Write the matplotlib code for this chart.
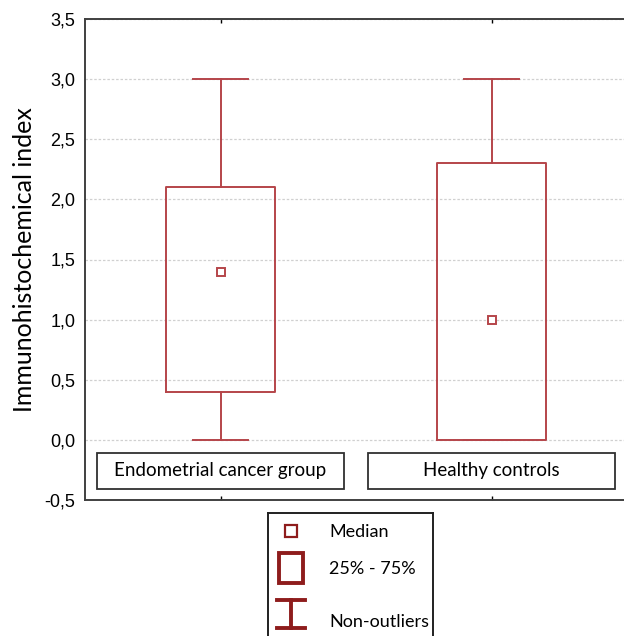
"""Box plot of immunohistochemical index for two groups."""
import matplotlib
matplotlib.use("Agg")
import matplotlib.pyplot as plt
from matplotlib.patches import Rectangle
from matplotlib.lines import Line2D

GROUPS = ["Endometrial cancer group", "Healthy controls"]
MINS = [0.0, 0.0]
Q1S = [0.4, 0.0]
MEDIANS = [1.4, 1.0]
Q3S = [2.1, 2.3]
MAXS = [3.0, 3.0]
YTICKS = [-0.5, 0.0, 0.5, 1.0, 1.5, 2.0, 2.5, 3.0, 3.5]
LEGEND_LABELS = ["Median", "25% - 75%", "Non-outliers"]

BOX_COLOR = "#b5454a"
LEGEND_COLOR = "#8e1c1c"
LABEL_FONT = ["Lato", "DejaVu Sans"]
TICK_FONT = ["Liberation Sans", "DejaVu Sans"]


def _main() -> None:
    fig = plt.figure(figsize=(6.24, 6.36), dpi=100)
    W, H = 624.0, 636.0
    ax = fig.add_axes([85 / W, 136 / H, 542 / W, 481 / H])

    stats = []
    for name, lo, q1, med, q3, hi in zip(GROUPS, MINS, Q1S, MEDIANS, Q3S, MAXS):
        stats.append({"label": name, "whislo": lo, "q1": q1, "med": med,
                      "q3": q3, "whishi": hi, "mean": med, "fliers": []})
    positions = list(range(len(GROUPS)))
    line = {"color": BOX_COLOR, "linewidth": 1.4}
    ax.bxp(stats, positions=positions, widths=0.40, capwidths=0.20,
           showmeans=True, showfliers=False,
           boxprops=line, whiskerprops=line, capprops=line,
           medianprops={"visible": False},
           meanprops={"marker": "s", "markersize": 6, "markerfacecolor": "white",
                      "markeredgecolor": BOX_COLOR, "markeredgewidth": 1.4,
                      "linestyle": "none"})

    ax.set_xlim(-0.5, len(GROUPS) - 0.5)
    ax.set_ylim(YTICKS[0], YTICKS[-1])
    ax.set_yticks(YTICKS)
    ax.set_yticklabels([f"{v:.1f}".replace(".", ",") for v in YTICKS],
                       fontfamily=TICK_FONT, fontsize=13)
    ax.tick_params(axis="y", length=0, pad=7)
    ax.set_xticks(positions)
    ax.set_xticklabels([])
    ax.tick_params(axis="x", direction="in", length=3, top=True, width=1)
    ax.grid(axis="y", color="#d0d0d0", linestyle=(0, (2, 1.5)), linewidth=0.9)
    ax.set_axisbelow(True)
    for sp in ax.spines.values():
        sp.set_color("#404040")
        sp.set_linewidth(1.4)

    ax.set_ylabel("Immunohistochemical index", fontfamily=LABEL_FONT,
                  fontsize=18, labelpad=6)

    # category label boxes inside the plot area
    for pos, name in zip(positions, GROUPS):
        ax.add_patch(Rectangle((pos - 0.455, -0.405), 0.91, 0.30,
                               facecolor="white", edgecolor="#303030",
                               linewidth=1.3, zorder=3))
        ax.text(pos, -0.255, name, ha="center", va="center",
                fontfamily=LABEL_FONT, fontsize=13.5, zorder=4)

    # legend panel below the plot (units: 1 x unit = 1 px, 1 y unit ~ 0.91 px)
    lg = fig.add_axes([268 / W, -10 / H, 165 / W, 133 / H])
    lg.set_xlim(0, 165)
    lg.set_ylim(146, 0)
    lg.set_xticks([])
    lg.set_yticks([])
    for sp in lg.spines.values():
        sp.set_color("#202020")
        sp.set_linewidth(1.4)
    lg.plot([23], [20], marker="s", markersize=8, markerfacecolor="white",
            markeredgecolor=LEGEND_COLOR, markeredgewidth=1.6, linestyle="none")
    lg.add_patch(Rectangle((11, 44), 24, 33, facecolor="white",
                           edgecolor=LEGEND_COLOR, linewidth=2.8))
    for seg in ([[9, 37], [96, 96]], [[9, 37], [126, 126]], [[23, 23], [96, 126]]):
        lg.add_line(Line2D(seg[0], seg[1], color=LEGEND_COLOR, linewidth=2.8))
    for ypos, text in zip([21, 62, 120], LEGEND_LABELS):
        lg.text(61, ypos, text, ha="left", va="center",
                fontfamily=LABEL_FONT, fontsize=13)

    fig.savefig("out.png", dpi=100, facecolor="white")


if __name__ == "__main__":
    _main()
